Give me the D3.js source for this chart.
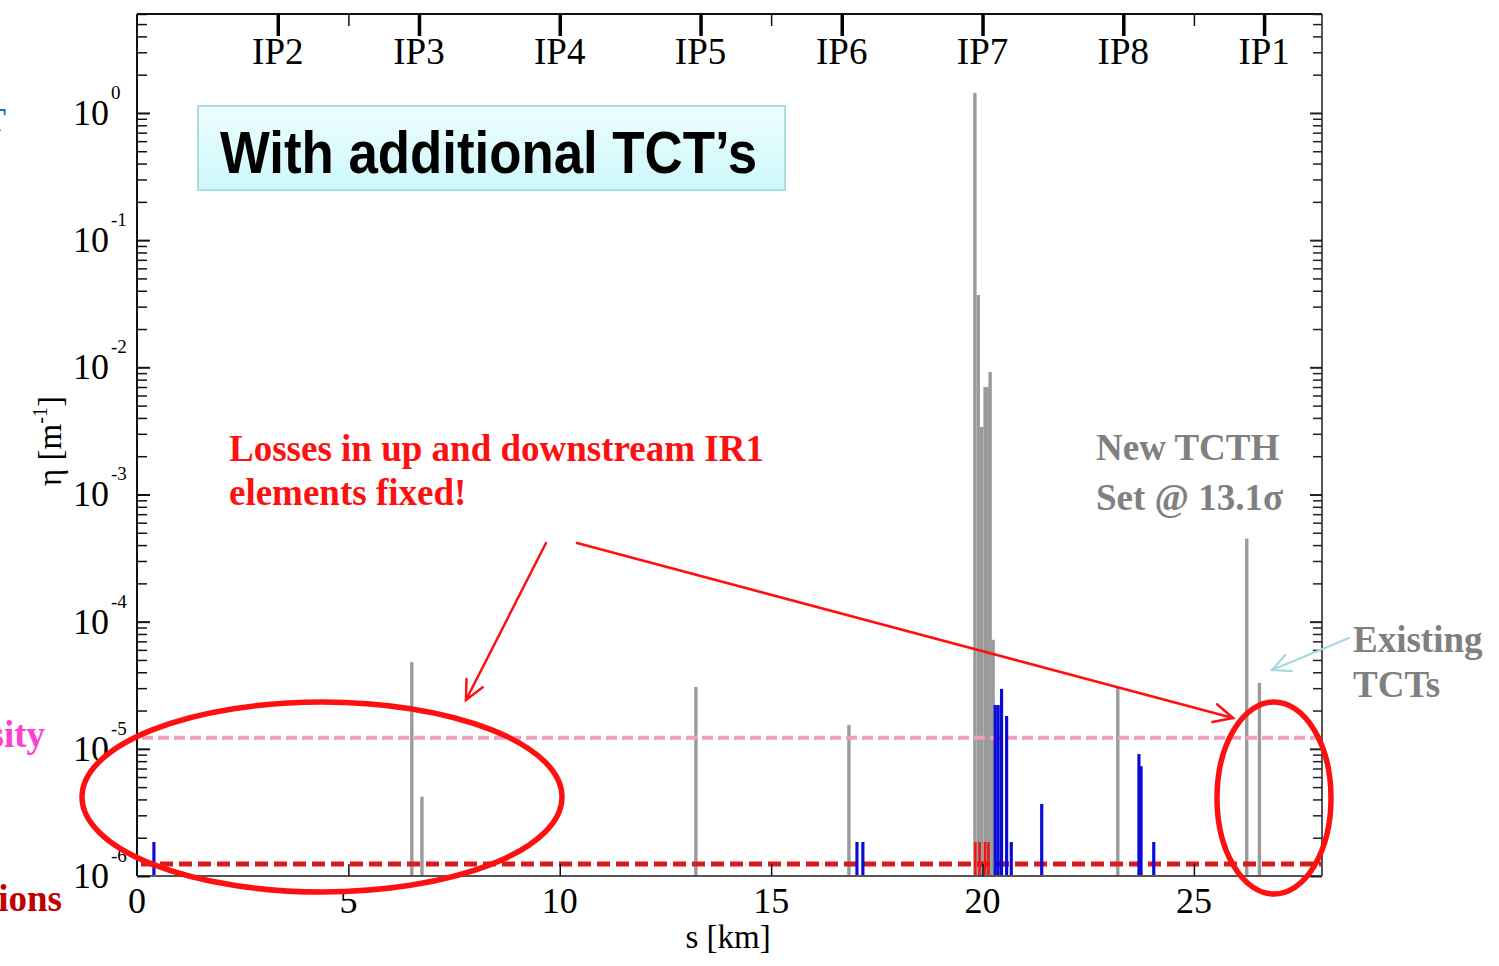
<!DOCTYPE html>
<html>
<head>
<meta charset="utf-8">
<script src="https://cdn.jsdelivr.net/npm/d3@7"></script>
<style>
  html, body { margin: 0; padding: 0; background: #fff; overflow: hidden; }
  svg { display: block; }
  text { font-family: "Liberation Serif", "Times New Roman", serif; }
</style>
</head>
<body>
<svg id="chart" width="1499" height="966"></svg>
<script>
// Interaction points along the ring (km)
const ipLabels    = ["IP2", "IP3", "IP4", "IP5", "IP6", "IP7", "IP8", "IP1"];
const ipPositions = [3.33, 6.67, 10.0, 13.33, 16.67, 20.0, 23.33, 26.66];

// Axis ticks
const xTicks    = [0, 5, 10, 15, 20, 25];
const yDecades  = [-6, -5, -4, -3, -2, -1, 0];

// Collimator losses (grey)
const collS   = [6.50, 6.74, 13.22, 16.84, 19.82, 19.90, 19.98, 20.06, 20.11, 20.18, 20.25, 23.20, 26.25, 26.55];
const collEta = [4.8e-5, 4.2e-6, 3.06e-5, 1.54e-5, 1.44, 0.037, 0.0034, 0.0070, 0.0070, 0.0092, 7.2e-5, 3.0e-5, 4.5e-4, 3.3e-5];

// Cold element losses (blue)
const coldS   = [0.40, 17.03, 17.17, 20.30, 20.37, 20.45, 20.57, 20.68, 21.40, 23.70, 23.75, 24.05];
const coldEta = [1.85e-6, 1.85e-6, 1.85e-6, 2.21e-5, 2.21e-5, 2.96e-5, 1.81e-5, 1.85e-6, 3.68e-6, 9.1e-6, 7.3e-6, 1.85e-6];

// Warm element losses (red)
const warmS   = [19.83, 19.93, 20.06, 20.14];
const warmEta = [1.85e-6, 1.85e-6, 1.85e-6, 1.85e-6];

// Reference levels
const quenchLevel = 1.22e-5;   // pink dashed
const ionLevel    = 1.24e-6;   // red dashed

const svg = d3.select("#chart");

const x = d3.scaleLinear().domain([0, 28.03]).range([137, 1322]);
const y = d3.scaleLog().domain([1e-6, 6]).range([876, 14]);

const X0 = x.range()[0], X1 = x.range()[1];
const Y0 = y.range()[0], Y1 = y.range()[1];

// log minor tick values
const minorVals = [];
for (let d = -6; d <= 0; d++) {
  for (let m = 2; m <= 9; m++) {
    const v = m * Math.pow(10, d);
    if (v <= y.domain()[1] * 1.0001) minorVals.push(v);
  }
}
const majorVals = yDecades.map(d => Math.pow(10, d));

// ---------- bars ----------
function drawBars(sArr, vArr, widthKm, color, g) {
  const pxW = x(widthKm) - x(0);
  g.selectAll(null)
    .data(sArr.map((s, i) => ({ s, v: vArr[i] })))
    .join("rect")
    .attr("x", d => x(d.s) - pxW / 2)
    .attr("y", d => y(d.v))
    .attr("width", pxW)
    .attr("height", d => Y0 - y(d.v))
    .attr("fill", color);
}
drawBars(collS, collEta, 0.08, "#9a9a9a", svg.append("g"));

// ---------- reference lines ----------
svg.append("line")
  .attr("x1", X0 + 5).attr("x2", X1)
  .attr("y1", y(quenchLevel)).attr("y2", y(quenchLevel))
  .attr("stroke", "#f09cc4").attr("stroke-width", 4)
  .attr("stroke-dasharray", "11,5");

svg.append("line")
  .attr("x1", X0 + 4).attr("x2", X1)
  .attr("y1", y(ionLevel)).attr("y2", y(ionLevel))
  .attr("stroke", "#d81c1c").attr("stroke-width", 5)
  .attr("stroke-dasharray", "13,6");

drawBars(coldS, coldEta, 0.075, "#0b0bd6", svg.append("g"));
drawBars(warmS, warmEta, 0.06, "#f01414", svg.append("g"));

// ---------- frame ----------
svg.append("line").attr("x1", X0).attr("x2", X0).attr("y1", Y1).attr("y2", Y0)
  .attr("stroke", "#111").attr("stroke-width", 2);
svg.append("line").attr("x1", X0).attr("x2", X1).attr("y1", Y1).attr("y2", Y1)
  .attr("stroke", "#111").attr("stroke-width", 2);
svg.append("line").attr("x1", X0).attr("x2", X1).attr("y1", Y0).attr("y2", Y0)
  .attr("stroke", "#555").attr("stroke-width", 2);
svg.append("line").attr("x1", X1).attr("x2", X1).attr("y1", Y1).attr("y2", Y0)
  .attr("stroke", "#555").attr("stroke-width", 2);

function tickAxis(axis, tx, ty, width, color) {
  const g = svg.append("g").attr("transform", `translate(${tx},${ty})`).call(axis);
  g.select(".domain").remove();
  g.selectAll("text").remove();
  g.selectAll("line").attr("stroke", color).attr("stroke-width", width);
  return g;
}

// left axis (ticks point inward)
tickAxis(d3.axisRight(y).tickValues(minorVals).tickSize(10).tickFormat(""), X0, 0, 1.5, "#111");
tickAxis(d3.axisRight(y).tickValues(majorVals).tickSize(13).tickFormat(""), X0, 0, 2, "#111");
// right axis
tickAxis(d3.axisLeft(y).tickValues(minorVals).tickSize(9).tickFormat(""), X1, 0, 1.5, "#222");
tickAxis(d3.axisLeft(y).tickValues(majorVals).tickSize(12).tickFormat(""), X1, 0, 2, "#222");
// bottom axis
tickAxis(d3.axisTop(x).tickValues(xTicks.slice(1)).tickSize(12).tickFormat(""), 0, Y0, 1.5, "#111");
// top axis: km ticks and IP markers
tickAxis(d3.axisBottom(x).tickValues(xTicks.slice(1)).tickSize(12).tickFormat(""), 0, Y1, 1.5, "#111");
tickAxis(d3.axisBottom(x).tickValues(ipPositions).tickSize(22).tickFormat(""), 0, Y1, 3.5, "#000");

// ---------- tick labels ----------
svg.append("g").selectAll("text")
  .data(xTicks).join("text")
  .attr("x", d => x(d)).attr("y", 913)
  .attr("text-anchor", "middle")
  .attr("font-size", 36).attr("fill", "#000")
  .text(d => d);

svg.append("g").selectAll("text")
  .data(ipLabels).join("text")
  .attr("x", (d, i) => x(ipPositions[i])).attr("y", 64)
  .attr("text-anchor", "middle")
  .attr("font-size", 37).attr("fill", "#000")
  .text(d => d);

const yl = svg.append("g");
yl.selectAll("text.base")
  .data(yDecades).join("text").attr("class", "base")
  .attr("x", 109).attr("y", d => y(Math.pow(10, d)) + 12)
  .attr("text-anchor", "end")
  .attr("font-size", 36).attr("fill", "#000")
  .text("10");
yl.selectAll("text.exp")
  .data(yDecades).join("text").attr("class", "exp")
  .attr("x", 111).attr("y", d => y(Math.pow(10, d)) - 14)
  .attr("font-size", 19).attr("fill", "#000")
  .text(d => d === 0 ? "0" : "-" + Math.abs(d));

// axis titles
svg.append("text")
  .attr("x", 728).attr("y", 948)
  .attr("text-anchor", "middle")
  .attr("font-size", 33).attr("fill", "#000")
  .text("s [km]");

const yt = svg.append("text")
  .attr("transform", "translate(61,441) rotate(-90)")
  .attr("text-anchor", "middle")
  .attr("font-size", 33).attr("fill", "#000");
yt.append("tspan").text("η [m");
yt.append("tspan").attr("font-size", 20).attr("dy", -14).text("-1");
yt.append("tspan").attr("dy", 14).text("]");

// ---------- title box ----------
const defs = svg.append("defs");
const grad = defs.append("linearGradient").attr("id", "boxFill")
  .attr("x1", 0).attr("y1", 0).attr("x2", 0).attr("y2", 1);
grad.append("stop").attr("offset", "0%").attr("stop-color", "#eefeff");
grad.append("stop").attr("offset", "100%").attr("stop-color", "#cdf8fb");

svg.append("rect")
  .attr("x", 198).attr("y", 106).attr("width", 587).attr("height", 84)
  .attr("fill", "url(#boxFill)")
  .attr("stroke", "#a9dde0").attr("stroke-width", 2);
svg.append("text")
  .attr("x", 220).attr("y", 173)
  .style("font-family", "'Liberation Sans', Arial, sans-serif")
  .attr("font-weight", "bold").attr("font-size", 60)
  .attr("textLength", 537).attr("lengthAdjust", "spacingAndGlyphs")
  .attr("fill", "#000")
  .text("With additional TCT\u2019s");

// ---------- annotations ----------
const red = "#ff1010";
svg.append("text")
  .attr("x", 229).attr("y", 461)
  .attr("font-weight", "bold").attr("font-size", 37).attr("fill", red)
  .text("Losses in up and downstream IR1");
svg.append("text")
  .attr("x", 229).attr("y", 505)
  .attr("font-weight", "bold").attr("font-size", 37).attr("fill", red)
  .text("elements fixed!");

const grey = "#808080";
svg.append("text").attr("x", 1096).attr("y", 460)
  .attr("font-weight", "bold").attr("font-size", 37).attr("fill", grey)
  .text("New TCTH");
svg.append("text").attr("x", 1096).attr("y", 510)
  .attr("font-weight", "bold").attr("font-size", 37).attr("fill", grey)
  .text("Set @ 13.1\u03c3");
svg.append("text").attr("x", 1353).attr("y", 652)
  .attr("font-weight", "bold").attr("font-size", 37).attr("fill", grey)
  .text("Existing");
svg.append("text").attr("x", 1353).attr("y", 697)
  .attr("font-weight", "bold").attr("font-size", 37).attr("fill", grey)
  .text("TCTs");

// legend fragments at the left page edge
svg.append("text").attr("x", 6).attr("y", 131)
  .attr("text-anchor", "end")
  .attr("font-weight", "bold").attr("font-size", 34).attr("fill", "#0a72c8")
  .text("TCT");
svg.append("text").attr("x", 2).attr("y", 252)
  .attr("text-anchor", "end")
  .attr("font-weight", "bold").attr("font-size", 34).attr("fill", "#0a72c8")
  .text("Cold:");
svg.append("text").attr("x", 45).attr("y", 747)
  .attr("text-anchor", "end")
  .attr("font-weight", "bold").attr("font-size", 37).attr("fill", "#ff3ed2")
  .text("intensity");
svg.append("text").attr("x", 62).attr("y", 911)
  .attr("text-anchor", "end")
  .attr("font-weight", "bold").attr("font-size", 37).attr("fill", "#c00000")
  .text("ions");

// arrows
function arrow(x1, y1, x2, y2, color, width, head) {
  const g = svg.append("g").attr("stroke", color).attr("stroke-width", width)
    .attr("fill", "none").attr("stroke-linecap", "round");
  g.append("line").attr("x1", x1).attr("y1", y1).attr("x2", x2).attr("y2", y2);
  const a = Math.atan2(y2 - y1, x2 - x1);
  const spread = 0.45;
  const p1 = [x2 - head * Math.cos(a - spread), y2 - head * Math.sin(a - spread)];
  const p2 = [x2 - head * Math.cos(a + spread), y2 - head * Math.sin(a + spread)];
  g.append("path").attr("d", `M${p1[0]},${p1[1]}L${x2},${y2}L${p2[0]},${p2[1]}`);
}
arrow(546, 543, 466, 700, red, 2.5, 21);
arrow(577, 543, 1233, 718, red, 2.5, 21);
arrow(1349, 638, 1272, 670, "#a6d8de", 2.2, 20);

// highlight ellipses
svg.append("ellipse")
  .attr("cx", 322).attr("cy", 797).attr("rx", 240).attr("ry", 95)
  .attr("fill", "none").attr("stroke", red).attr("stroke-width", 5.5);
svg.append("ellipse")
  .attr("cx", 1274).attr("cy", 798).attr("rx", 57).attr("ry", 96)
  .attr("fill", "none").attr("stroke", red).attr("stroke-width", 5.5);
</script>
</body>
</html>
